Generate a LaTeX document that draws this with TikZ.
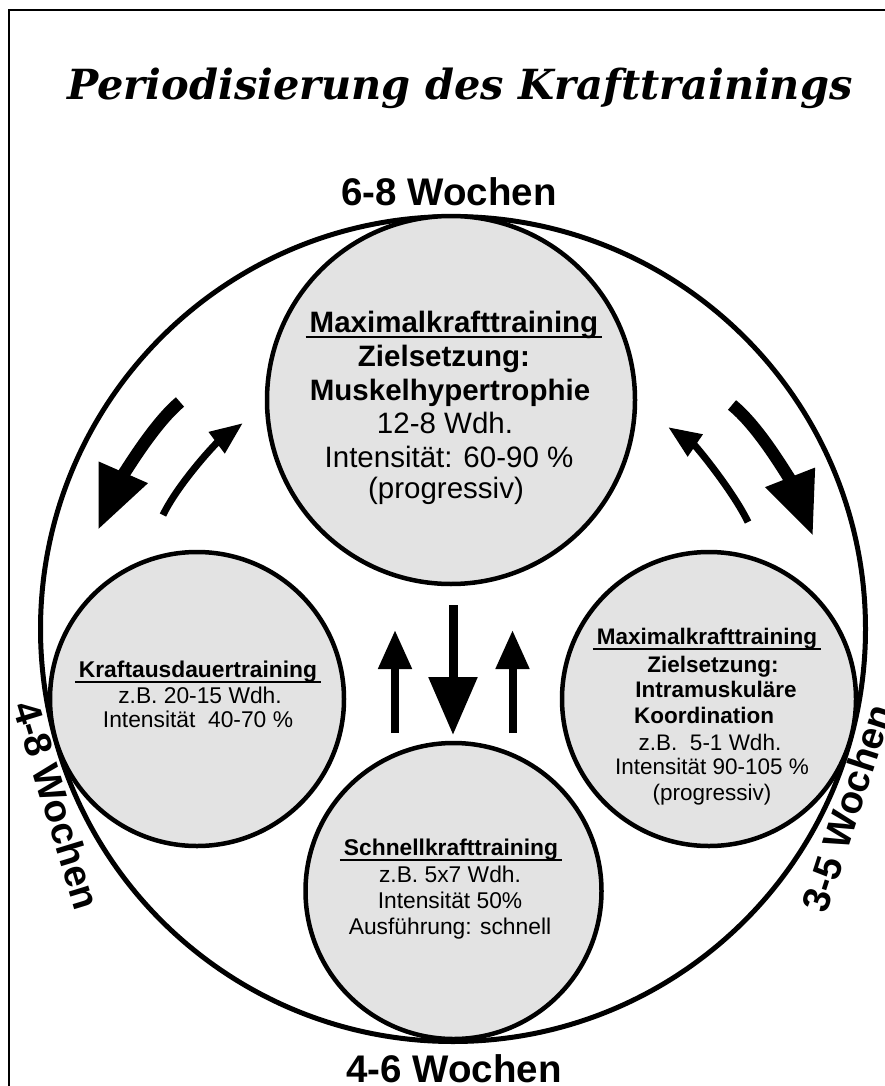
\documentclass[tikz,border=0pt]{standalone}
\usepackage{fontspec}
\setmainfont{Liberation Sans}
\newfontfamily\labelfont{Liberation Sans}
\newfontfamily\titlefont{DejaVu Serif}
\usetikzlibrary{arrows.meta}
\definecolor{phasegray}{HTML}{E3E3E3}

% underline that runs a little past both ends of the text
\newsavebox\phaseulbox
\newcommand\phaseul[1]{\sbox\phaseulbox{#1}\rlap{\hspace*{-4pt}\rule[-6pt]{\dimexpr\wd\phaseulbox+8pt\relax}{2pt}}\usebox\phaseulbox}

\tikzset{
  phase/.style={circle, draw, line width=4.5pt, fill=phasegray, inner sep=0pt, minimum size=#1},
  txt/.style={inner sep=0pt, anchor=base},
  bigtxt/.style={txt, font=\labelfont\fontsize{29.5}{33}\selectfont},
  midtxt/.style={txt, font=\labelfont\fontsize{22.8}{26}\selectfont},
  smalltxt/.style={txt, font=\labelfont\fontsize{22.5}{26}\selectfont},
  weeks/.style={inner sep=0pt, font=\labelfont\bfseries\fontsize{38.5}{42}\selectfont},
  thickarrow/.style={line width=12.5pt, -{Triangle[length=63pt, width=50pt]}},
  thinarrow/.style={line width=7pt, -{Triangle[length=33pt, width=25pt]}},
  downarrow/.style={line width=9pt, -{Triangle[length=58pt, width=47pt]}},
  uparrow/.style={line width=8pt, -{Triangle[length=39pt, width=32pt]}},
}

\begin{document}
\begin{tikzpicture}[x=1pt, y=-1pt]
\useasboundingbox (0,0) rectangle (885,1086);

% frame
\draw[line width=2pt] (9,1086) -- (9,10.5) -- (885,10.5);

% title
\node[txt, font=\titlefont\bfseries\itshape\fontsize{41.5}{46}\selectfont] (title) at (460,100) {Periodisierung des Krafttrainings};

% outer cycle
\node[circle, draw, line width=5pt, inner sep=0pt, minimum size=825pt] (cycle) at (453,629) {};

% phase circles
\node[phase=368pt] (top) at (451,400) {};
\node[phase=294pt] (left) at (197,699) {};
\node[phase=294pt] (right) at (709,699) {};
\node[phase=296pt] (bottom) at (453.5,891) {};

% durations
\node[weeks, anchor=base] (wtop) at (449,205) {6-8 Wochen};
\node[weeks, anchor=base] (wbottom) at (454,1082) {4-6 Wochen};
\node[weeks, rotate=-73] (wleft) at (57,805) {4-8 Wochen};
\node[weeks, rotate=72] (wright) at (847,808) {3-5 Wochen};

% top phase
\node[bigtxt] (t1) at (454,332) {\bfseries\phaseul{Maximalkrafttraining}};
\node[bigtxt] (t2) at (444,366) {\bfseries Zielsetzung:};
\node[bigtxt] (t3) at (450,400) {\bfseries Muskelhypertrophie};
\node[bigtxt] (t4) at (445,433) {12-8 Wdh.};
\node[bigtxt] (t5) at (449,467) {Intensität: 60-90 \%};
\node[bigtxt] (t6) at (446,498) {(progressiv)};

% left phase
\node[midtxt] (l1) at (198,677) {\bfseries\phaseul{Kraftausdauertraining}};
\node[midtxt] (l2) at (200,703) {z.B. 20-15 Wdh.};
\node[midtxt] (l3) at (198,727) {Intensität~~40-70 \%};

% right phase
\node[smalltxt] (r1) at (707,644) {\bfseries\phaseul{Maximalkrafttraining}};
\node[smalltxt] (r2) at (713,672) {\bfseries Zielsetzung:};
\node[smalltxt] (r3) at (716,697) {\bfseries Intramuskuläre};
\node[smalltxt] (r4) at (704,723) {\bfseries Koordination};
\node[smalltxt] (r5) at (710,750) {z.B.~~5-1 Wdh.};
\node[smalltxt] (r6) at (712,774) {Intensität 90-105 \%};
\node[smalltxt] (r7) at (712,800) {(progressiv)};

% bottom phase
\node[midtxt] (b1) at (451,855) {\bfseries\phaseul{Schnellkrafttraining}};
\node[midtxt] (b2) at (450,882) {z.B. 5x7 Wdh.};
\node[midtxt] (b3) at (450,908) {Intensität 50\%};
\node[midtxt] (b4) at (450,934) {Ausführung: schnell};

% arrow end points
\coordinate (tl-s) at (180,402);
\coordinate (tl-e) at (98,530);
\coordinate (lt-s) at (163,515);
\coordinate (lt-e) at (243,423);
\coordinate (tr-s) at (732,405);
\coordinate (tr-e) at (813,536);
\coordinate (rt-s) at (748,522);
\coordinate (rt-e) at (668,427);
\coordinate (tb-s) at (453,605);
\coordinate (tb-e) at (453,735);
\coordinate (bl-s) at (395,733);
\coordinate (bl-e) at (395,630);
\coordinate (br-s) at (512.5,733);
\coordinate (br-e) at (512.5,630);

% curved arrows between top and side phases
\draw[thickarrow] (tl-s) .. controls (149,428) and (116,489) .. (tl-e);
\draw[thinarrow] (lt-s) .. controls (178,484) and (215,444) .. (lt-e);
\draw[thickarrow] (tr-s) .. controls (763,430) and (795,490) .. (tr-e);
\draw[thinarrow] (rt-s) .. controls (733,491) and (696,446) .. (rt-e);

% straight arrows between top and bottom phases
\draw[downarrow] (tb-s) -- (tb-e);
\draw[uparrow] (bl-s) -- (bl-e);
\draw[uparrow] (br-s) -- (br-e);
\end{tikzpicture}
\end{document}
